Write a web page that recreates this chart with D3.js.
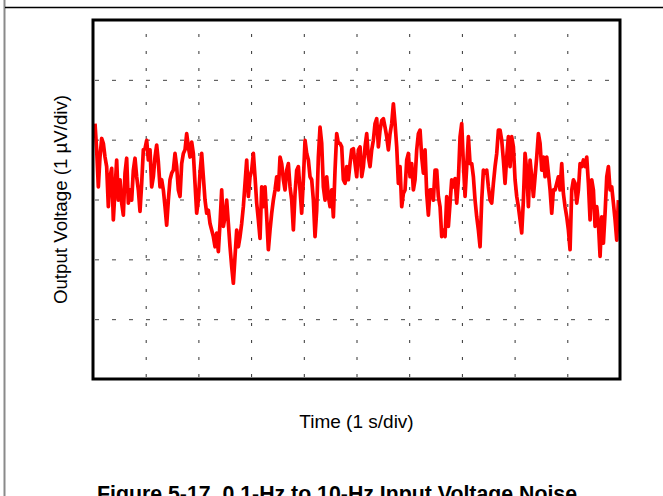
<!DOCTYPE html>
<html>
<head>
<meta charset="utf-8">
<script src="https://cdn.jsdelivr.net/npm/d3@7/dist/d3.min.js"></script>
<style>
  html, body { margin: 0; padding: 0; background: #fff; }
  svg { display: block; }
  text { font-family: Arial, "Liberation Sans", Helvetica, sans-serif; fill: #000; }
</style>
</head>
<body>
<svg id="chart" width="663" height="496"></svg>
<script>
// ---- Data (time in seconds, output in µV) ----
const timeDomain = [0, 10];          // 10 divisions, 1 s/div
const voltDomain = [-3, 3];          // 6 divisions, 1 µV/div
const xGridTicks = [1, 2, 3, 4, 5, 6, 7, 8, 9];
const yGridTicks = [-2, -1, 0, 1, 2];
const sampleStart = 0.038;           // s, first sample
const sampleStep = 0.03163;          // s, sample spacing

const noiseFirstPart = [
  1.27,0.83,0.21,0.71,1.02,0.94,0.71,0.55,-0.12,0.38,
  0.52,-0.34,0.16,0.66,-0.01,0.33,-0.06,-0.26,0.44,0.69,
  -0.06,0.16,-0.01,0.49,0.69,0.38,0.16,-0.20,0.27,0.83,
  0.85,0.99,0.66,0.83,0.21,0.38,0.71,0.91,0.63,0.21,
  0.33,0.16,-0.12,-0.43,-0.01,0.33,0.44,0.49,0.77,0.55,
  0.16,0.05,0.60,0.77,0.83,1.10,0.88,0.71,0.96,0.77,
  0.27,-0.23,-0.01,0.44,0.77,0.38,-0.01,-0.23,-0.18,-0.40,
  -0.51,-0.62,-0.79,-0.56,-0.87,-0.40,0.16,-0.45,-0.29,-0.01,
  -0.40,-0.79,-1.12,-1.40,-0.95,-0.51,-0.79,-0.62,-0.40,-0.12,
  0.27,0.66,0.05,0.38,0.49,0.77,0.38,-0.06,-0.34,-0.65,
  0.21,-0.12,0.21,-0.29,-0.84,-0.51,-0.23,-0.01,0.16,0.38,
  0.16,0.71,0.60,0.33,0.16,0.49,0.60,0.21,-0.01,-0.51,
  0.10,0.49,0.55,0.16,-0.23,0.33,0.99,0.77,0.66,0.38,
  0.33,-0.01,-0.62,-0.18,0.71,1.21,0.94,0.21,-0.01,0.38,
  0.05,-0.12,0.16,-0.29,0.49,1.10,0.94
];
const noiseSecondPart = [
  0.94,0.88,0.33,0.27,0.55,0.33,0.60,0.83,0.85,0.60,
  0.38,0.83,0.88,0.38,0.55,0.88,1.10,0.71,0.55,0.83,
  0.99,1.27,1.35,0.88,1.16,1.32,1.35,1.21,1.05,0.83,
  1.10,1.27,1.60,1.27,0.88,0.27,0.55,-0.12,0.10,0.16,
  0.66,0.77,0.38,0.60,0.16,0.33,0.83,1.10,1.16,0.71,
  0.44,0.83,0.10,-0.26,0.16,0.16,-0.01,0.49,0.49,0.05,
  -0.12,-0.62,-0.51,-0.62,0.05,-0.45,-0.06,0.33,0.21,0.35,
  -0.06,0.33,1.05,1.27,0.60,0.05,0.55,1.05,0.60,0.60,
  0.38,-0.01,-0.29,-0.51,-0.79,-0.01,0.49,0.44,0.49,0.21,
  -0.01,-0.06,0.27,0.55,0.77,1.16,1.16,0.99,0.66,0.27,
  0.71,1.05,0.55,1.05,0.88,0.33,0.05,-0.12,-0.34,-0.56,
  -0.01,0.77,0.49,-0.12,0.66,0.38,0.05,0.38,0.71,1.10,
  0.94,0.49,0.71,0.38,0.71,0.44,0.16,-0.23,0.16,0.16,
  0.27,0.38,0.16,0.60,0.10,-0.12,-0.29,-0.51,-0.84,0.16,
  0.33,0.27,-0.06,0.16,0.60,0.55,0.66,0.55,0.71,0.27,
  -0.34,0.33,0.16,-0.45,-0.12,-0.40,-0.95,-0.29,-0.73,-0.23,
  0.38,0.55,0.16,0.21,-0.06,-0.34,-0.68,-0.01
];

const yAxisTitle = "Output Voltage (1 \u00B5V/div)";
const xAxisTitle = "Time (1 s/div)";
const figureCaption = "Figure 5-17. 0.1-Hz to 10-Hz Input Voltage Noise";

// ---- Layout ----
const plot = { left: 93, right: 620, top: 20, bottom: 379 };
const svg = d3.select("#chart");

const x = d3.scaleLinear().domain(timeDomain).range([plot.left, plot.right]);
const y = d3.scaleLinear().domain(voltDomain).range([plot.bottom, plot.top]);

// page frame lines
svg.append("line").attr("x1", 4.5).attr("x2", 4.5).attr("y1", 0).attr("y2", 496)
  .attr("stroke", "#8a8a8a").attr("stroke-width", 2);
svg.append("line").attr("x1", 5).attr("x2", 663).attr("y1", 7.5).attr("y2", 7.5)
  .attr("stroke", "#000").attr("stroke-width", 1.5);

// grid via axes
const gx = svg.append("g")
  .attr("transform", `translate(0,${plot.bottom})`)
  .call(d3.axisBottom(x).tickValues(xGridTicks).tickSize(-(plot.bottom - plot.top)).tickFormat(""));
gx.select(".domain").remove();
gx.selectAll(".tick line").attr("stroke", "#333").attr("stroke-width", 1)
  .attr("stroke-dasharray", "3,14").attr("stroke-dashoffset", -2);

const gy = svg.append("g")
  .attr("transform", `translate(${plot.left},0)`)
  .call(d3.axisLeft(y).tickValues(yGridTicks).tickSize(-(plot.right - plot.left)).tickFormat(""));
gy.select(".domain").remove();
gy.selectAll(".tick line").attr("stroke", "#444").attr("stroke-width", 1)
  .attr("stroke-dasharray", "4,13").attr("stroke-dashoffset", -2);

// noise trace
const samples = noiseFirstPart.concat(noiseSecondPart)
  .map((v, i) => ({ t: sampleStart + i * sampleStep, v }));
const line = d3.line().x(d => x(d.t)).y(d => y(d.v));
svg.append("path").datum(samples)
  .attr("d", line)
  .attr("fill", "none")
  .attr("stroke", "#ff0000")
  .attr("stroke-width", 3.7)
  .attr("stroke-linejoin", "round");

// plot frame
svg.append("rect")
  .attr("x", plot.left).attr("y", plot.top)
  .attr("width", plot.right - plot.left).attr("height", plot.bottom - plot.top)
  .attr("fill", "none").attr("stroke", "#000").attr("stroke-width", 3);

// axis titles
svg.append("text")
  .attr("transform", `translate(67,${(plot.top + plot.bottom) / 2}) rotate(-90)`)
  .attr("text-anchor", "middle")
  .style("font-size", "18.7px")
  .text(yAxisTitle);

svg.append("text")
  .attr("x", (plot.left + plot.right) / 2).attr("y", 428)
  .attr("text-anchor", "middle")
  .style("font-size", "19px")
  .text(xAxisTitle);

svg.append("text")
  .attr("x", 97).attr("y", 501)
  .style("font-size", "21.3px").style("font-weight", "bold")
  .text(figureCaption);
</script>
</body>
</html>
